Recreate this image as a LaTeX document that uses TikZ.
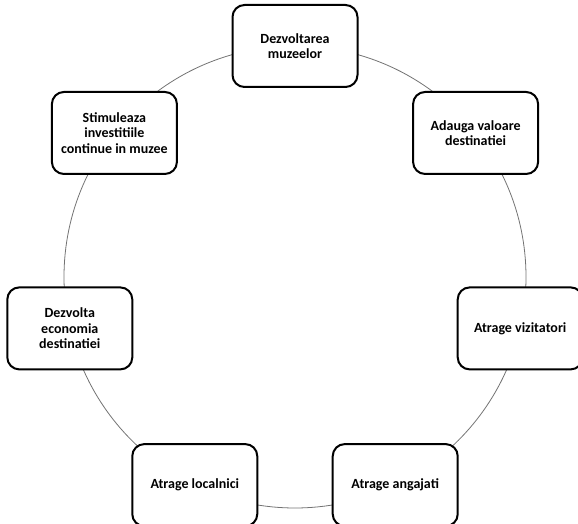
\documentclass[tikz,border=0pt]{standalone}
\usepackage{fontspec}
\setmainfont{Carlito}
\usetikzlibrary{calc}

\tikzset{
  etapa/.style={draw=black, line width=1.5pt, fill=white, rounded corners=9pt,
    minimum width=93.75pt, minimum height=61.5pt, align=center,
    font=\fontsize{10.5}{11.5}\selectfont\bfseries, inner sep=2pt},
  inel/.style={draw=black!55, line width=0.6pt}
}

\begin{document}
\begin{tikzpicture}[x=0.75pt, y=0.75pt]
  \useasboundingbox (0,0) rectangle (578,524);
  \coordinate (centru) at (295,247);
  % ciclul
  \draw[inel] (centru) circle (231);
  \foreach \k / \nm / \txt in {0/muz/{Dezvoltarea\\muzeelor},
                               1/val/{Adauga valoare\\destinatiei},
                               2/viz/{Atrage vizitatori},
                               3/ang/{Atrage angajati},
                               4/loc/{Atrage localnici},
                               5/eco/{Dezvolta\\economia\\destinatiei},
                               6/inv/{Stimuleaza\\investitiile\\continue in muzee}} {
    \node[etapa] (\nm) at ($(centru)+(90-\k*360/7:231)$) {\txt};
  }
\end{tikzpicture}
\end{document}
